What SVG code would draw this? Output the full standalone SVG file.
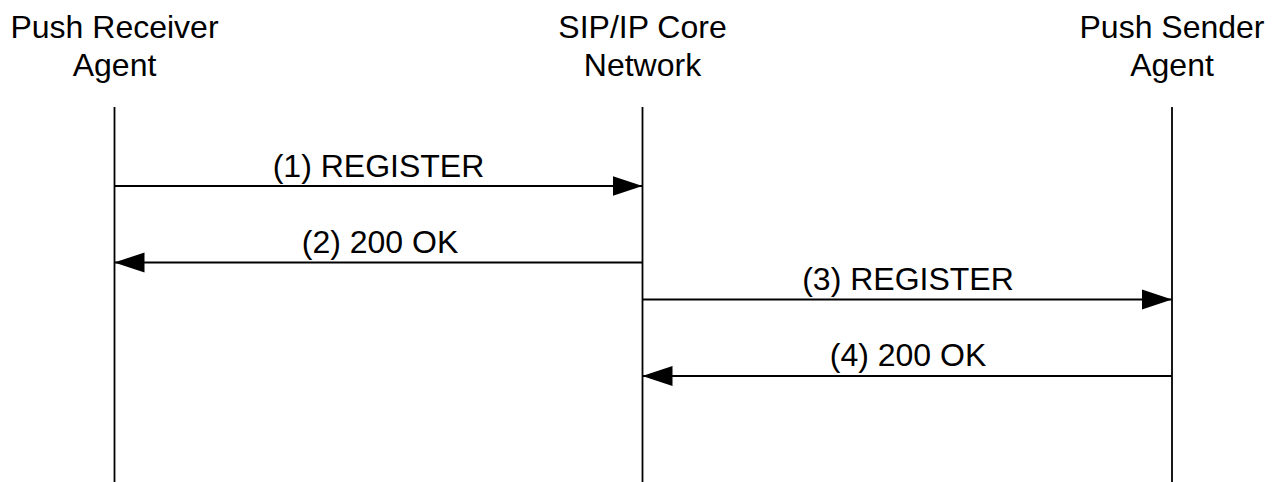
<svg xmlns="http://www.w3.org/2000/svg" width="1274" height="482" viewBox="0 0 1274 482">
<style>
text{font-family:"Liberation Sans",Arial,sans-serif;font-size:32px;fill:#000;text-anchor:middle}
.life{stroke:#000;stroke-width:1.8;fill:none}
.msg{stroke:#000;stroke-width:2;fill:none}
</style>
<defs>
<marker id="ah" markerUnits="userSpaceOnUse" markerWidth="30" markerHeight="22" refX="30" refY="11" orient="auto">
<path d="M0,1 L30,11 L0,21 Z" fill="#000"/>
</marker>
</defs>
<rect width="1274" height="482" fill="#fff"/>
<g id="node-receiver">
<text x="114.5" y="38">Push Receiver</text>
<text x="114.5" y="76">Agent</text>
<line class="life" x1="114.5" y1="107" x2="114.5" y2="482"/>
</g>
<g id="node-core">
<text x="642.5" y="38">SIP/IP Core</text>
<text x="642.5" y="76">Network</text>
<line class="life" x1="642.5" y1="107" x2="642.5" y2="482"/>
</g>
<g id="node-sender">
<text x="1172" y="38">Push Sender</text>
<text x="1172" y="76">Agent</text>
<line class="life" x1="1172" y1="107" x2="1172" y2="482"/>
</g>
<g id="connectors">
<line class="msg" x1="114.5" y1="186" x2="642.5" y2="186" marker-end="url(#ah)"/>
<text x="378.5" y="177">(1) REGISTER</text>
<line class="msg" x1="642.5" y1="262.5" x2="114.5" y2="262.5" marker-end="url(#ah)"/>
<text x="380" y="253">(2) 200 OK</text>
<line class="msg" x1="642.5" y1="299.5" x2="1172" y2="299.5" marker-end="url(#ah)"/>
<text x="908" y="290">(3) REGISTER</text>
<line class="msg" x1="1172" y1="376" x2="642.5" y2="376" marker-end="url(#ah)"/>
<text x="908" y="366">(4) 200 OK</text>
</g>
</svg>
